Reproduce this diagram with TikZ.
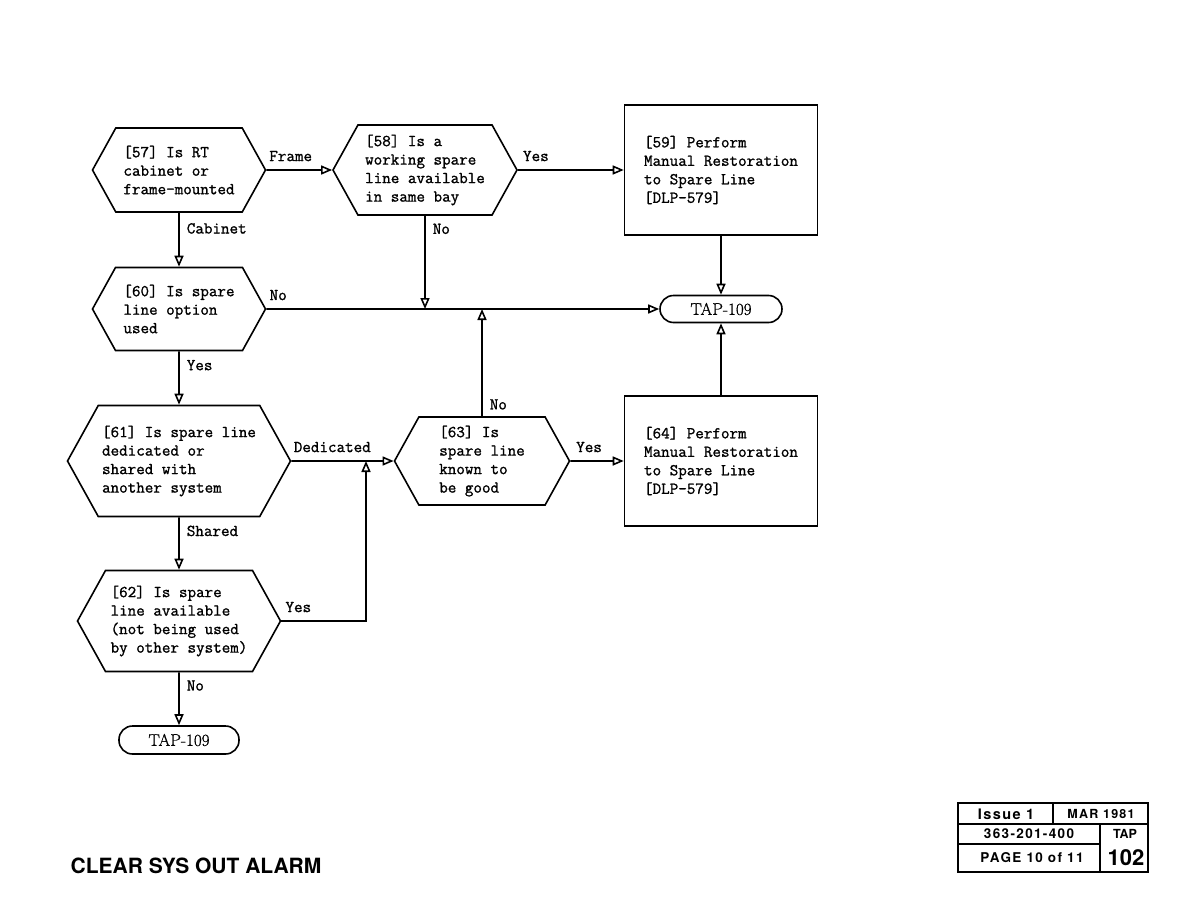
\documentclass[tikz,border=0pt]{standalone}
\usepackage{fontspec}
\newfontfamily\gyre{TeX Gyre Heros}
\newfontfamily\gyrewide[LetterSpace=10]{TeX Gyre Heros}
\newfontfamily\typer[FakeBold=1.2]{Latin Modern Mono}
\newfontfamily\tapfont[FakeBold=0.8]{Latin Modern Roman}
\usetikzlibrary{calc,shapes.symbols,arrows.meta}

\begin{document}
\begin{tikzpicture}[x=1pt, y=-1pt, line width=1.6pt,
    font=\typer\fontsize{16.6}{18.5}\selectfont,
    hexa/.style={draw, shape=signal, signal to=east and west,
      signal pointer angle=122, align=left, inner sep=0pt},
    procbox/.style={draw, rectangle, align=left, inner sep=0pt,
      minimum width=193pt, minimum height=130pt},
    tapbox/.style={draw, rectangle, rounded corners=13.5pt, inner sep=0pt,
      minimum width=122pt, minimum height=27pt,
      font=\tapfont\fontsize{17}{19}\selectfont},
    lbl/.style={inner sep=2pt},
    flow/.style={-{Triangle[open, length=11pt, width=9pt]}}]
  \fill[white] (0,0) rectangle (1188,918);
  \useasboundingbox (0,0) rectangle (1188,918);

  % linke Spalte
  \node[hexa, minimum width=173pt, minimum height=84pt] (h57) at (179,170)
    {[57] Is RT\\cabinet or\\frame-mounted};
  \node[hexa, minimum width=173pt, minimum height=83pt] (h60) at (179,309)
    {[60] Is spare\\line option\\used};
  \node[hexa, minimum width=223pt, minimum height=111pt] (h61) at (179,461)
    {[61] Is spare line\\dedicated or\\shared with\\another system};
  \node[hexa, minimum width=203pt, minimum height=101pt] (h62) at (179,621)
    {[62] Is spare\\line available\\(not being used\\by other system)};
  \node[tapbox, minimum width=120pt, minimum height=28pt] (tapb) at (179,740) {TAP-109};

  % Mitte
  \node[hexa, minimum width=184pt, minimum height=90pt] (h58) at (425,170)
    {[58] Is a\\working spare\\line available\\in same bay};
  \node[hexa, minimum width=175pt, minimum height=88pt] (h63) at (482,461)
    {[63] Is\\spare line\\known to\\be good};

  % rechte Spalte
  \node[procbox] (box59) at (721,170)
    {[59] Perform\\Manual Restoration\\to Spare Line\\{[DLP-579]}};
  \node[tapbox] (tapa) at (721,309) {TAP-109};
  \node[procbox] (box64) at (721,461)
    {[64] Perform\\Manual Restoration\\to Spare Line\\{[DLP-579]}};

  % Hilfspunkte auf den Linien
  \coordinate (j1) at (h58.south |- tapa.west);
  \coordinate (j2) at (h63.north |- tapa.west);
  \coordinate (j3) at ($(h61.east)!0.73!(h63.west)$);

  \draw[flow] (h57) -- node[lbl, above=6pt, pos=.37] {Frame} (h58);
  \draw[flow] (h58) -- node[lbl, above=6pt, pos=.17] {Yes} (box59);
  \draw[flow] (h57) -- node[lbl, right=5pt, pos=.29] {Cabinet} (h60);
  \draw[flow] (h58.south) -- node[lbl, right=5pt, pos=.14] {No} (j1);
  \draw[flow] (h60) -- node[lbl, above=6pt, pos=.03] {No} (tapa);
  \draw[flow] (box59) -- (tapa);
  \draw[flow] (box64) -- (tapa);
  \draw[flow] (h63.north) -- node[lbl, right=5pt, pos=.11] {No} (j2);
  \draw[flow] (h60) -- node[lbl, right=5pt, pos=.26] {Yes} (h61);
  \draw[flow] (h61) -- node[lbl, above=6pt, pos=.40] {Dedicated} (h63);
  \draw[flow] (h63) -- node[lbl, above=6pt, pos=.35] {Yes} (box64);
  \draw[flow] (h61) -- node[lbl, right=5pt, pos=.26] {Shared} (h62);
  \draw[flow] (h62.east) -| node[lbl, above=6pt, pos=.1] {Yes} (j3);
  \draw[flow] (h62) -- node[lbl, right=5pt, pos=.25] {No} (tapb);

  % Fusszeile
  \node[font=\gyre\bfseries\fontsize{21}{24}\selectfont] (title) at (196,866)
    {CLEAR SYS OUT ALARM};
  \draw[line width=1.4pt] (958,803) rectangle (1148,872);
  \draw[line width=1.4pt] (958,824) -- (1148,824);
  \draw[line width=1.4pt] (1053,803) -- (1053,824);
  \draw[line width=1.4pt] (1100,824) -- (1100,872);
  \draw[line width=1.4pt] (958,844) -- (1100,844);
  \node[font=\gyrewide\bfseries\fontsize{14.5}{15}\selectfont] (issue) at (1006,814) {Issue 1};
  \node[font=\gyrewide\bfseries\fontsize{12.5}{15}\selectfont] (date) at (1101,814) {MAR 1981};
  \node[font=\gyrewide\bfseries\fontsize{13.5}{15}\selectfont] (docno) at (1029,834) {363-201-400};
  \node[font=\gyrewide\bfseries\fontsize{13.5}{15}\selectfont] (page) at (1032,858) {PAGE 10 of 11};
  \node[font=\gyre\bfseries\fontsize{12.5}{15}\selectfont] (tap) at (1125,834) {TAP};
  \node[font=\gyre\bfseries\fontsize{22}{24}\selectfont] (tapno) at (1126,858) {102};
\end{tikzpicture}
\end{document}
